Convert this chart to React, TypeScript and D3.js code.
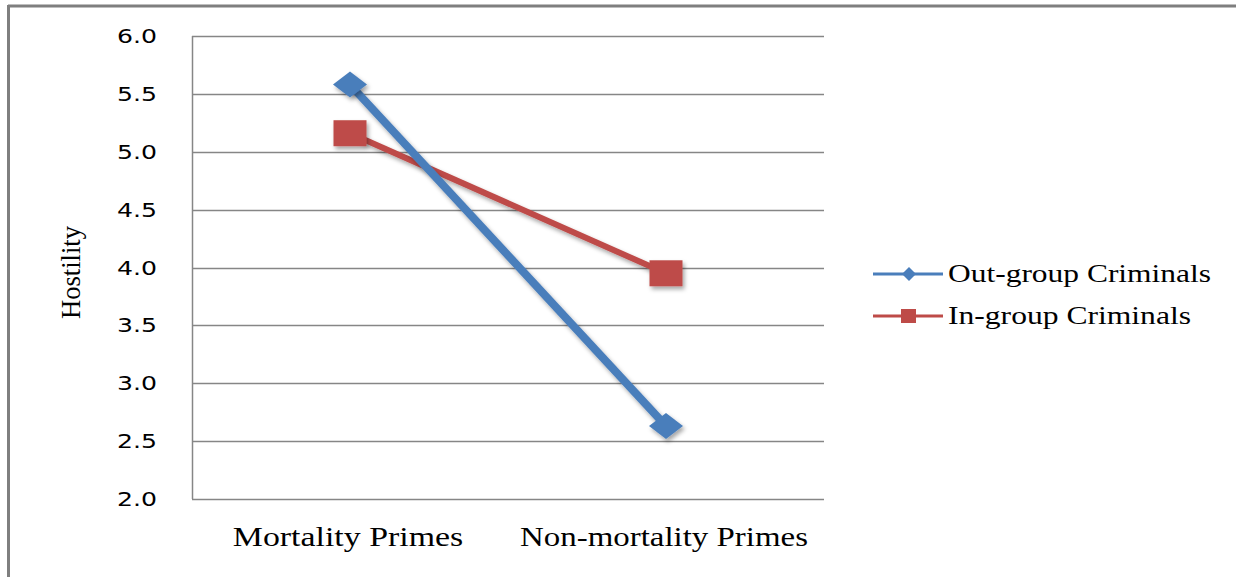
import React from "react";
import * as d3 from "d3";

const categories = ["Mortality Primes", "Non-mortality Primes"];
const outGroup = [5.58, 2.63];
const inGroup = [5.16, 3.95];
const yTicks = [2.0, 2.5, 3.0, 3.5, 4.0, 4.5, 5.0, 5.5, 6.0];
const seriesNames = ["Out-group Criminals", "In-group Criminals"];

const W = 1236;
const H = 577;
const plot = { left: 192, right: 824, top: 36, bottom: 499 };
const BLUE = "#4A7EBB";
const RED = "#BE4B48";
const GRID = "#868686";

export default function App() {
  const x = d3
    .scaleBand<string>()
    .domain(categories)
    .range([plot.left, plot.right]);
  const y = d3.scaleLinear().domain([2, 6]).range([plot.bottom, plot.top]);
  const cx = (c: string) => (x(c) ?? 0) + x.bandwidth() / 2;

  const line = d3
    .line<number>()
    .x((_, i) => cx(categories[i]))
    .y((d) => y(d));

  const diamond = (px: number, py: number, rw: number, rh: number) =>
    `M${px - rw},${py} L${px},${py - rh} L${px + rw},${py} L${px},${py + rh} Z`;

  return (
    <svg
      width={W}
      height={H}
      style={{ position: "absolute", left: 0, top: 0, background: "#fff" }}
    >
      <defs>
        <filter id="shadow" x="-50%" y="-50%" width="200%" height="200%">
          <feDropShadow dx="2" dy="3" stdDeviation="2" floodColor="#000" floodOpacity="0.35" />
        </filter>
      </defs>
      <rect width={W} height={H} fill="#fff" />

      {/* outer frame */}
      <line x1={8} x2={W} y1={6} y2={6} stroke="#7f7f7f" strokeWidth={3} />
      <line x1={8.5} x2={8.5} y1={5} y2={H} stroke="#7f7f7f" strokeWidth={3} />

      {/* gridlines */}
      {yTicks.map((t) => (
        <line
          key={t}
          x1={plot.left}
          x2={plot.right}
          y1={Math.round(y(t)) + 0.5}
          y2={Math.round(y(t)) + 0.5}
          stroke={GRID}
          strokeWidth={1.5}
        />
      ))}
      <line
        x1={plot.left + 0.5}
        x2={plot.left + 0.5}
        y1={plot.top}
        y2={plot.bottom}
        stroke={GRID}
        strokeWidth={1.5}
      />

      {/* y tick labels */}
      {yTicks.map((t) => (
        <text
          key={t}
          x={157}
          y={y(t) + 7}
          textAnchor="end"
          fontFamily="DejaVu Sans"
          fontSize={20}
          textLength={40}
          lengthAdjust="spacingAndGlyphs"
          fill="#000"
        >
          {d3.format(".1f")(t)}
        </text>
      ))}

      {/* y axis title */}
      <text
        transform={`translate(80,${(plot.top + plot.bottom) / 2 + 5}) rotate(-90)`}
        textAnchor="middle"
        fontFamily="Liberation Serif"
        fontSize={27}
        textLength={93}
        lengthAdjust="spacingAndGlyphs"
        fill="#000"
      >
        Hostility
      </text>

      {/* category labels */}
      {categories.map((c) => (
        <text
          key={c}
          x={cx(c) - 2}
          y={546}
          textAnchor="middle"
          fontFamily="Liberation Serif"
          fontSize={27}
          textLength={c.length * 14.4}
          lengthAdjust="spacingAndGlyphs"
          fill="#000"
        >
          {c}
        </text>
      ))}

      {/* series lines */}
      <path d={line(inGroup) ?? ""} fill="none" stroke={RED} strokeWidth={6} filter="url(#shadow)" />
      <path d={line(outGroup) ?? ""} fill="none" stroke={BLUE} strokeWidth={8} filter="url(#shadow)" />

      {/* markers */}
      {inGroup.map((v, i) => (
        <rect
          key={"in" + i}
          x={cx(categories[i]) - 16.5}
          y={y(v) - 13}
          width={33}
          height={26}
          fill={RED}
          filter="url(#shadow)"
        />
      ))}
      {outGroup.map((v, i) => (
        <path
          key={"out" + i}
          d={diamond(cx(categories[i]), y(v), 17, 13)}
          fill={BLUE}
          filter="url(#shadow)"
        />
      ))}

      {/* legend */}
      {seriesNames.map((name, i) => {
        const ly = 274 + i * 42;
        const color = i === 0 ? BLUE : RED;
        return (
          <g key={name}>
            <line x1={873} x2={943} y1={ly} y2={ly} stroke={color} strokeWidth={3} />
            {i === 0 ? (
              <path d={diamond(909, ly, 7, 7)} fill={color} />
            ) : (
              <rect x={901} y={ly - 7} width={15} height={14} fill={color} />
            )}
            <text
              x={948}
              y={ly + 8}
              fontFamily="Liberation Serif"
              fontSize={25}
              textLength={i === 0 ? 263 : 243}
              lengthAdjust="spacingAndGlyphs"
              fill="#000"
            >
              {name}
            </text>
          </g>
        );
      })}
    </svg>
  );
}
